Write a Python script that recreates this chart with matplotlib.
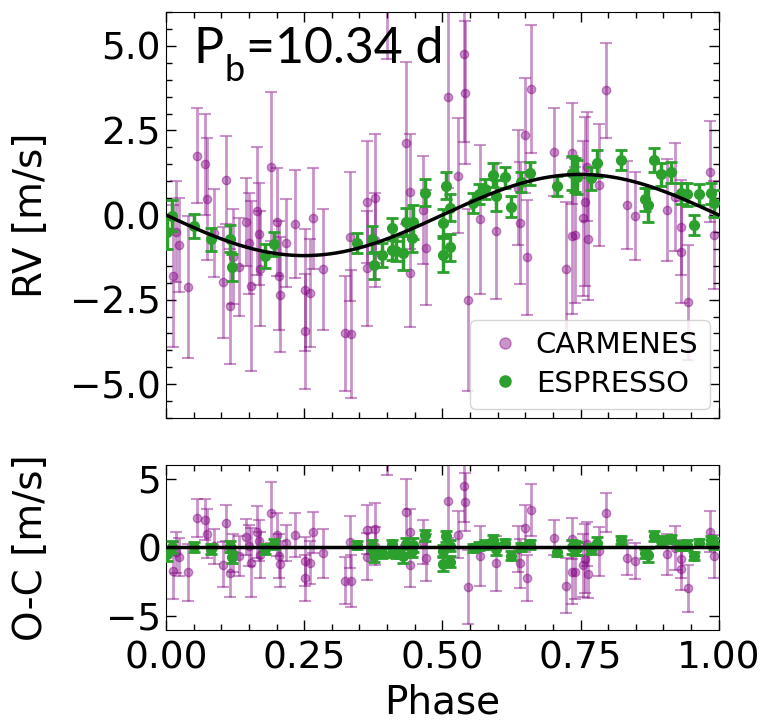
import matplotlib.pyplot as plt
import numpy as np
from matplotlib.lines import Line2D
from matplotlib.transforms import offset_copy

# RV semi-amplitude of the fitted model (m/s)
K = 1.2

# CARMENES: phase, RV, error
car_phase = [0.012, 0.019, 0.024, 0.039, 0.057, 0.071, 0.075, 0.086, 0.104, 0.108,
             0.116, 0.121, 0.132, 0.144, 0.151, 0.153, 0.164, 0.168, 0.170, 0.190,
             0.200, 0.205, 0.206, 0.218, 0.233, 0.251, 0.251, 0.260, 0.266, 0.284,
             0.324, 0.334, 0.333, 0.363, 0.363, 0.378, 0.378, 0.399, 0.435, 0.441,
             0.441, 0.465, 0.471, 0.510, 0.539, 0.541, 0.529, 0.547, 0.568, 0.597,
             0.640, 0.649, 0.654, 0.661, 0.702, 0.723, 0.735, 0.734, 0.637, 0.740,
             0.761, 0.758, 0.755, 0.764, 0.783, 0.796, 0.834, 0.849, 0.907, 0.920,
             0.931, 0.931, 0.944, 0.984, 0.991]
car_rv = [-1.79, -0.49, -0.89, -2.12, 1.75, 1.50, 0.47, -0.54, -1.99, 1.03,
          -2.69, -1.23, -1.53, -0.20, -0.84, -2.10, 0.12, -0.56, -1.59, 1.43,
          -0.20, -1.79, -2.36, -0.84, -0.27, -2.22, -3.43, -2.30, -0.10, -1.61,
          -3.50, -3.52, -0.64, 0.39, -1.58, 0.49, -0.74, 7.0, 2.12, 0.69,
          -1.72, 0.15, -0.97, 3.50, 4.75, 3.62, 1.16, -2.51, -0.13, -0.47,
          -0.23, 2.36, -1.25, 3.72, 1.87, -1.61, -0.62, 1.82, 0.80, -0.59,
          1.43, 0.39, -0.10, -0.72, 0.89, 3.69, 0.30, -0.02, 0.15, 0.54,
          -0.36, -1.10, -2.58, 1.28, -0.59]
car_err = [2.1, 1.5, 1.4, 2.1, 1.4, 1.5, 1.8, 1.3, 1.65, 1.3,
           1.7, 1.4, 1.45, 1.3, 1.5, 2.5, 1.9, 1.5, 1.7, 2.2,
           1.6, 1.6, 1.7, 1.3, 1.6, 1.8, 1.7, 1.6, 1.5, 1.8,
           1.7, 1.9, 1.9, 1.8, 1.7, 1.9, 1.4, 2.4, 2.4, 1.7,
           1.6, 1.6, 1.7, 2.7, 2.6, 2.1, 1.7, 2.7, 2.2, 2.0,
           1.8, 1.7, 1.7, 1.9, 1.3, 2.0, 2.3, 1.5, 1.7, 2.0,
           1.6, 2.5, 2.3, 1.8, 1.8, 1.4, 1.3, 1.3, 1.5, 1.6,
           1.4, 1.5, 1.7, 1.5, 1.6]

# ESPRESSO: phase, RV, error
esp_phase = [0.002, 0.010, 0.051, 0.081, 0.116, 0.119, 0.180, 0.195, 0.345, 0.373,
             0.377, 0.390, 0.409, 0.408, 0.417, 0.429, 0.435, 0.447, 0.445, 0.468,
             0.501, 0.501, 0.506, 0.514, 0.514, 0.555, 0.567, 0.577, 0.592, 0.597,
             0.614, 0.624, 0.643, 0.658, 0.708, 0.734, 0.740, 0.743, 0.769, 0.779,
             0.823, 0.866, 0.872, 0.882, 0.895, 0.913, 0.931, 0.943, 0.955, 0.964,
             0.986, 0.991]
esp_rv = [-0.49, -0.02, -0.33, -0.72, -0.70, -1.55, -1.21, -0.86, -0.82, -0.72,
          -1.48, -1.18, -0.39, -1.03, -1.06, -1.13, -0.20, -0.20, -0.69, 0.66,
          -0.23, -1.18, 0.87, 0.22, -0.95, 0.35, 0.62, 0.77, 1.18, 0.57,
          1.11, 0.25, 0.98, 1.23, 0.86, 1.25, 1.18, 1.13, 1.08, 1.53,
          1.63, 0.46, 0.30, 1.63, 1.20, 1.26, 0.64, 0.61, -0.30, 0.61,
          0.64, 0.35]
esp_err = [0.5, 0.45, 0.35, 0.35, 0.4, 0.4, 0.35, 0.35, 0.3, 0.4,
           0.4, 0.35, 0.3, 0.3, 0.3, 0.5, 0.4, 0.5, 0.4, 0.4,
           0.4, 0.5, 0.4, 0.4, 0.4, 0.3, 0.3, 0.3, 0.35, 0.45,
           0.3, 0.3, 0.3, 0.35, 0.3, 0.5, 0.5, 0.5, 0.35, 0.4,
           0.3, 0.35, 0.5, 0.35, 0.35, 0.3, 0.3, 0.35, 0.3, 0.3,
           0.3, 0.4]


def model(ph):
    return -K * np.sin(2 * np.pi * np.asarray(ph))


car_phase = np.array(car_phase)
car_rv = np.array(car_rv)
esp_phase = np.array(esp_phase)
esp_rv = np.array(esp_rv)
car_oc = car_rv - model(car_phase)
esp_oc = esp_rv - model(esp_phase)

ph_grid = np.linspace(0, 1, 400)

car_col = 'purple'
esp_col = '#2ca02c'
tick_fs = 27
label_fs = 28

fig = plt.figure(figsize=(7.72, 7.27), dpi=100)
ax1 = fig.add_axes([0.215, 0.425, 0.716, 0.5585])
ax2 = fig.add_axes([0.215, 0.134, 0.716, 0.226])

# top panel
ax1.errorbar(car_phase, car_rv, yerr=car_err, fmt='o', color=car_col, alpha=0.42,
             ms=6, elinewidth=2, capsize=4, capthick=1.5, zorder=2)
ax1.errorbar(esp_phase, esp_rv, yerr=esp_err, fmt='o', color=esp_col,
             ms=7, elinewidth=2.5, capsize=4, capthick=2, zorder=3)
ax1.plot(ph_grid, model(ph_grid), color='k', lw=2.5, zorder=4)
ax1.set_xlim(0, 1)
ax1.set_ylim(-6, 6)
ax1.set_yticks([-5, -2.5, 0, 2.5, 5])
ax1.set_yticks(np.arange(-6, 6.01, 0.5), minor=True)
ax1.set_xticks([0, 0.25, 0.5, 0.75, 1.0])
ax1.set_xticks(np.arange(0, 1.001, 0.05), minor=True)
ax1.tick_params(labelbottom=False)
ax1.set_ylabel('RV [m/s]', fontsize=label_fs)
ax1.yaxis.set_label_coords(-0.21, 0.5)

handles = [Line2D([], [], marker='o', ls='', color=car_col, alpha=0.42, ms=8),
           Line2D([], [], marker='o', ls='', color=esp_col, ms=8)]
ax1.legend(handles, ['CARMENES', 'ESPRESSO'], loc='lower right', fontsize=21,
           handlelength=1.6, handletextpad=0.25, borderpad=0.4, labelspacing=0.35,
           borderaxespad=0.3)

# residual panel
ax2.errorbar(car_phase, car_oc, yerr=car_err, fmt='o', color=car_col, alpha=0.42,
             ms=6, elinewidth=2, capsize=4, capthick=1.5, zorder=2)
ax2.errorbar(esp_phase, esp_oc, yerr=esp_err, fmt='o', color=esp_col,
             ms=7, elinewidth=2.5, capsize=4, capthick=2, zorder=3)
ax2.axhline(0, color='k', lw=2.5, zorder=4)
ax2.set_xlim(0, 1)
ax2.set_ylim(-6, 6)
ax2.set_yticks([-5, 0, 5])
ax2.set_xticks([0, 0.25, 0.5, 0.75, 1.0])
ax2.set_xticks(np.arange(0, 1.001, 0.05), minor=True)
ax2.set_ylabel('O-C [m/s]', fontsize=label_fs)
ax2.yaxis.set_label_coords(-0.21, 0.5)
ax2.set_xlabel('Phase', fontsize=label_fs, labelpad=5)

for ax in (ax1, ax2):
    ax.tick_params(which='both', direction='in', top=True, right=True)
    ax.tick_params(which='major', length=7, width=1, labelsize=tick_fs)
    ax.tick_params(which='minor', length=4, width=1)
    ax.tick_params(axis='x', which='major', pad=8)

# period annotation: "P" with a big lowered subscript "b"
t1 = ax1.text(0.049, 0.874, 'P', transform=ax1.transAxes, fontsize=36,
              family='Lato', va='baseline', ha='left')
fig.canvas.draw()
w1 = t1.get_window_extent().width * 72 / fig.dpi
tr_b = offset_copy(ax1.transAxes, fig=fig, x=w1 + 1, y=-13, units='points')
t2 = ax1.text(0.049, 0.874, 'b', transform=tr_b, fontsize=26,
              family='Lato', va='baseline', ha='left')
fig.canvas.draw()
w2 = t2.get_window_extent().width * 72 / fig.dpi
tr_c = offset_copy(ax1.transAxes, fig=fig, x=w1 + w2 + 2, y=0, units='points')
ax1.text(0.049, 0.874, '=10.34 d', transform=tr_c, fontsize=36,
         family='Lato', va='baseline', ha='left')

fig.savefig('out.png', dpi=100)
